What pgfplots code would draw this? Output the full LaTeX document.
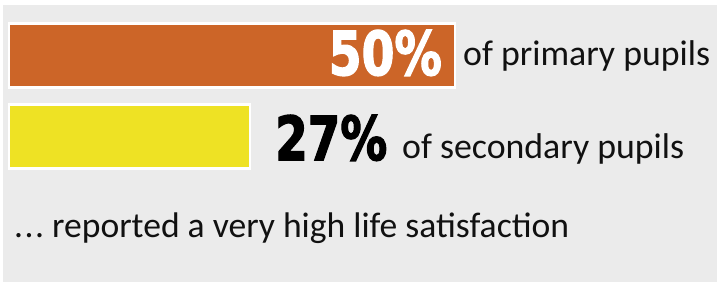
\documentclass[border=0pt]{standalone}
\usepackage{pgfplots}
\pgfplotsset{compat=1.18}
\usepackage{fontspec}
\setmainfont{Carlito}
\newfontfamily\numfont{DejaVu Sans}[UprightFont={* Bold}, FakeBold=2.5]
\definecolor{bg}{RGB}{235,235,235}
\definecolor{orangebar}{RGB}{204,101,40}
\definecolor{yellowbar}{RGB}{238,226,36}
\definecolor{txt}{RGB}{17,17,17}
\begin{document}
\begin{tikzpicture}
\path[use as bounding box] (0,0) rectangle (717bp,282bp);
\begin{axis}[at={(3bp,0)}, anchor=south west, scale only axis,
  width=714bp, height=277bp,
  xmin=-0.673, xmax=79.372, ymin=0, ymax=277, y dir=reverse,
  axis lines=none, ticks=none, clip=false,
  axis background/.style={fill=bg},
  xbar, bar width=64, bar shift=0pt]
\addplot[fill=orangebar, draw=white, line width=2.5bp] coordinates {(50,50.5)};
\addplot[fill=yellowbar, draw=white, line width=2.5bp] coordinates {(27,131.3)};
\node[anchor=base east, inner sep=0, text=white] at (axis cs:48.54,70)
  {\resizebox{113bp}{45bp}{\numfont 50\%}};
\node[anchor=base west, inner sep=0, text=txt] at (axis cs:50.90,60)
  {\fontsize{35.8bp}{40bp}\selectfont of primary pupils};
\node[anchor=base west, inner sep=0, text=black] at (axis cs:29.82,155)
  {\resizebox{112bp}{45bp}{\numfont 27\%}};
\node[anchor=base west, inner sep=0, text=txt] at (axis cs:44.06,153)
  {\fontsize{35.8bp}{40bp}\selectfont of secondary pupils};
\node[anchor=base west, inner sep=0, text=txt] at (axis cs:0.56,232)
  {\fontsize{35.6bp}{40bp}\selectfont .\kern1.5bp.\kern1.5bp.\ reported a very high life satisfaction};
\end{axis}
\end{tikzpicture}
\end{document}
